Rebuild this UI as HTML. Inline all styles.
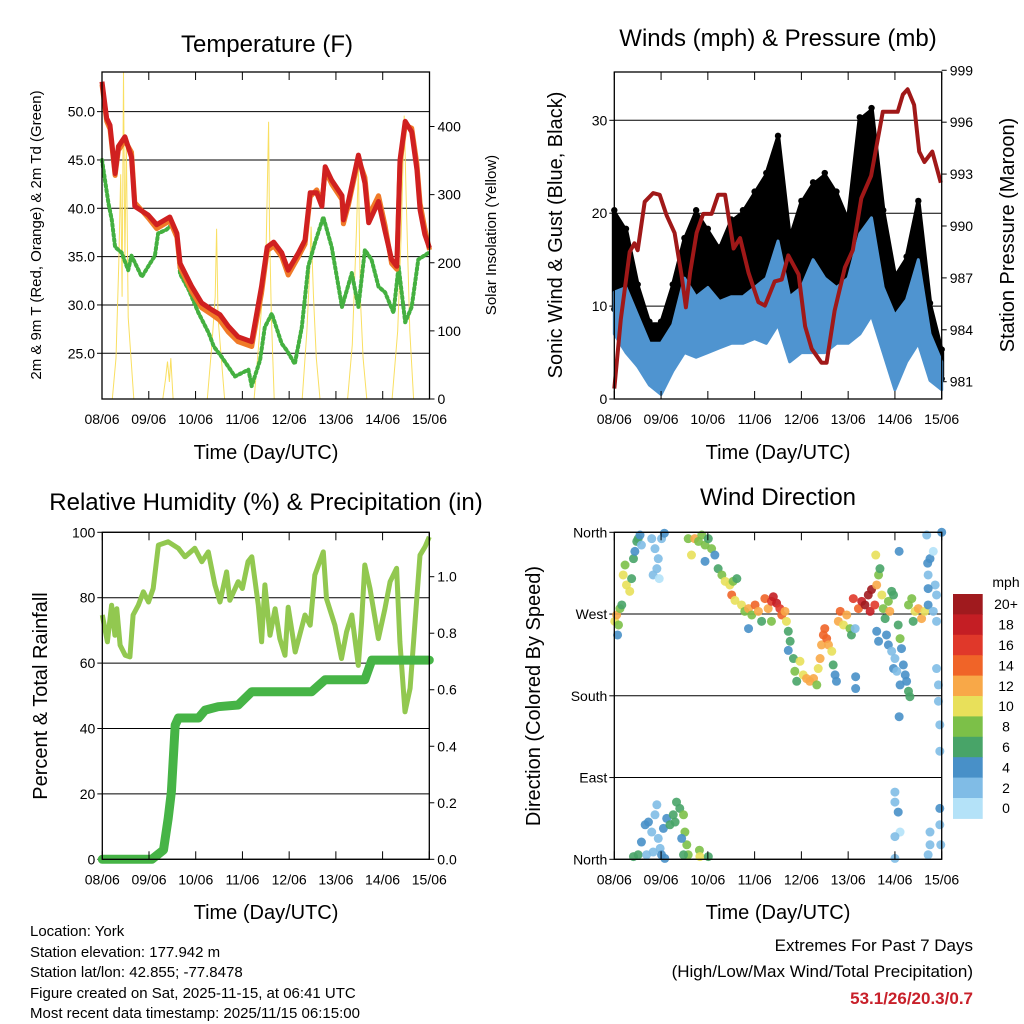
<!DOCTYPE html>
<html><head><meta charset="utf-8"><style>
html,body{margin:0;padding:0;background:#fff;}
svg{display:block;font-family:"Liberation Sans",Arial,sans-serif;}
</style></head><body>
<svg id="chart" width="1024" height="1024" viewBox="0 0 1024 1024" xmlns="http://www.w3.org/2000/svg">
<rect x="0" y="0" width="1024" height="1024" fill="#fff"/>
<g id="layerP1"></g>
<g id="layerP2"></g>
<g id="layerP3"></g>
<g id="layerP4"></g>

<text x="267" y="52" font-size="24" text-anchor="middle">Temperature (F)</text>
<text x="778" y="46" font-size="24" text-anchor="middle">Winds (mph) &amp; Pressure (mb)</text>
<text x="266" y="510" font-size="24" text-anchor="middle">Relative Humidity (%) &amp; Precipitation (in)</text>
<text x="778" y="505" font-size="24" text-anchor="middle">Wind Direction</text>

<text x="266" y="459" font-size="20" text-anchor="middle">Time (Day/UTC)</text>
<text x="778" y="459" font-size="20" text-anchor="middle">Time (Day/UTC)</text>
<text x="266" y="919" font-size="20" text-anchor="middle">Time (Day/UTC)</text>
<text x="778" y="919" font-size="20" text-anchor="middle">Time (Day/UTC)</text>

<text transform="translate(41,235) rotate(-90)" font-size="15" text-anchor="middle">2m &amp; 9m T (Red, Orange) &amp; 2m Td (Green)</text>
<text transform="translate(496,235) rotate(-90)" font-size="15" text-anchor="middle">Solar Insolation (Yellow)</text>
<text transform="translate(562,235) rotate(-90)" font-size="20" text-anchor="middle">Sonic Wind &amp; Gust (Blue, Black)</text>
<text transform="translate(1014,235) rotate(-90)" font-size="20" text-anchor="middle">Station Pressure (Maroon)</text>
<text transform="translate(47,696) rotate(-90)" font-size="20" text-anchor="middle">Percent &amp; Total Rainfall</text>
<text transform="translate(540,696) rotate(-90)" font-size="20" text-anchor="middle">Direction (Colored By Speed)</text>

<g font-size="15">
<text x="30" y="936">Location: York</text>
<text x="30" y="957">Station elevation: 177.942 m</text>
<text x="30" y="977">Station lat/lon: 42.855; -77.8478</text>
<text x="30" y="998">Figure created on Sat, 2025-11-15, at 06:41 UTC</text>
<text x="30" y="1018">Most recent data timestamp: 2025/11/15 06:15:00</text>
</g>
<text x="973" y="951" font-size="17" text-anchor="end">Extremes For Past 7 Days</text>
<text x="973" y="977" font-size="17" text-anchor="end">(High/Low/Max Wind/Total Precipitation)</text>
<text x="973" y="1004" font-size="17" font-weight="bold" fill="#c8202a" text-anchor="end">53.1/26/20.3/0.7</text>
</svg>
<script>
// ---------- data ----------
const dayLabels=["08/06","09/06","10/06","11/06","12/06","13/06","14/06","15/06"];
const tempTicks=[25,30,35,40,45,50];
const solarTicks=[0,100,200,300,400];
const windTicks=[0,10,20,30];
const presTicks=[981,984,987,990,993,996,999];
const rhTicks=[0,20,40,60,80,100];
const rainTicks=[0,0.2,0.4,0.6,0.8,1.0];
const dirTicks=[360,270,180,90,0];
const dirLabels=["North","West","South","East","North"];

const redT=[0,0.10,0.17,0.28,0.35,0.49,0.63,0.70,0.99,1.17,1.45,1.60,1.67,1.92,2.13,2.35,2.52,2.70,2.91,3.20,3.41,3.53,3.67,3.84,3.98,4.20,4.34,4.45,4.59,4.70,4.77,4.91,5.13,5.16,5.27,5.48,5.62,5.70,5.91,6.05,6.19,6.30,6.37,6.48,6.62,6.73,6.80,6.90,7.0];
const redV=[53.1,49.3,48.6,43.6,46.4,47.4,45.3,40.2,39.3,38.3,39.1,37.4,34.3,31.9,30.2,29.5,29.0,27.8,26.7,26.2,31.9,36.0,36.5,35.4,33.6,35.4,36.7,41.6,41.6,40.2,44.3,42.9,41.3,38.8,40.8,45.5,42.6,38.5,40.7,37.6,34.7,34.0,45.0,49.0,47.9,44.0,39.8,37.3,35.9];
const orangeV=[52.8,49.0,48.2,43.4,46.0,47.0,45.8,40.6,39.0,37.9,38.7,37.0,33.9,31.4,29.7,29.0,28.4,27.2,26.2,25.7,31.2,35.6,36.1,35.0,33.1,35.0,36.3,41.2,41.9,40.6,43.9,42.5,40.9,38.4,40.4,45.1,43.2,39.2,41.3,38.2,34.3,33.7,44.6,48.6,48.3,44.6,40.5,37.9,35.7];
const tdT=[0,0.14,0.21,0.28,0.42,0.56,0.63,0.85,0.99,1.13,1.20,1.38,1.49,1.60,1.67,1.85,2.06,2.28,2.39,2.56,2.84,3.13,3.20,3.38,3.48,3.63,3.84,3.95,4.12,4.27,4.41,4.55,4.73,4.91,5.13,5.34,5.48,5.62,5.76,5.91,6.05,6.23,6.34,6.48,6.62,6.76,6.98];
const tdV=[45.0,40.5,38.8,36.0,35.4,33.6,35.1,32.9,34.0,35.1,37.4,37.8,38.3,37.1,33.2,31.6,29.2,27.1,25.7,24.6,22.6,23.3,21.6,24.3,27.7,29.1,26.0,25.3,23.9,27.7,34.0,36.4,39.1,36.0,29.8,33.3,29.8,35.7,34.7,31.9,31.3,29.2,34.0,28.2,29.8,34.7,35.4];
const solarT=[0,0.22,0.30,0.36,0.40,0.43,0.46,0.49,0.52,0.56,0.62,0.68,1.30,1.36,1.40,1.44,1.47,1.52,2.25,2.35,2.42,2.45,2.48,2.55,2.62,3.25,3.35,3.44,3.50,3.53,3.56,3.58,3.62,3.68,4.28,4.38,4.44,4.47,4.52,4.58,4.66,5.25,5.35,5.44,5.48,5.52,5.58,5.66,6.20,6.32,6.40,6.46,6.50,6.58,6.66,7.0];
const solarV=[0,0,60,200,330,150,480,200,380,120,60,0,0,30,55,25,60,0,0,80,150,250,120,60,0,0,80,160,200,300,407,250,120,0,0,100,190,253,150,60,0,0,80,250,341,150,60,0,0,100,250,416,300,100,0,0];

const windT=[0,0.25,0.5,0.75,1,1.25,1.5,1.75,2,2.25,2.5,2.75,3,3.25,3.5,3.75,4,4.25,4.5,4.75,5,5.25,5.5,5.75,6,6.25,6.5,6.75,7];
const sustHi=[11.5,12,9,6,6,8,13,11,12,10.5,11,11,12,13,17,11,12,15,13,12,13,17.8,19.5,12,9,10.7,15,7,4];
const sustLo=[7,5,3.5,1.5,0.5,3,5,4.5,5,5.5,6,6,6.5,6,8,4,5,5,5,6,6,7,9,5,1,4,6,2,1];
const gustHi=[20,18,12,8,8,12,17,20,18,16,19,20,22,24,28,17,21,23,24,22,19,30,31,20,13,15,21,10,5];
const gustLo=[10,11,8,4,3,7,10,11,10,10,10,11,12,13,16,10,11,12,12,12,11,17,18,10,5,6,11,4,2.5];
const presT=[0,0.14,0.33,0.43,0.5,0.65,0.83,0.97,1.12,1.29,1.44,1.53,1.62,1.76,1.9,2.08,2.22,2.37,2.55,2.69,2.87,3.08,3.22,3.43,3.58,3.72,3.94,4.08,4.22,4.43,4.54,4.71,4.93,5.1,5.28,5.49,5.74,5.92,6.06,6.17,6.27,6.41,6.52,6.63,6.8,6.98];
const presV=[980.6,984.6,988.5,989.0,988.6,991.4,991.9,991.8,990.6,989.6,987.1,985.3,987.3,989.6,990.7,990.7,991.8,991.8,988.7,989.3,987.3,985.6,985.4,986.8,986.9,988.3,987.2,984.2,982.9,982.1,982.1,985.1,987.6,988.6,991.6,992.9,996.6,996.6,996.6,997.6,997.9,997.0,994.3,993.7,994.3,992.5];

const rhT=[0,0.11,0.2,0.27,0.31,0.38,0.49,0.59,0.66,0.77,0.88,0.99,1.09,1.2,1.41,1.63,1.77,1.98,2.13,2.27,2.41,2.52,2.66,2.73,2.91,3.0,3.12,3.2,3.34,3.41,3.48,3.59,3.7,3.8,3.91,3.98,4.13,4.34,4.45,4.55,4.73,4.8,4.98,5.12,5.23,5.34,5.48,5.55,5.62,5.73,5.91,6.05,6.16,6.3,6.37,6.48,6.59,6.69,6.8,6.91,7.0];
const rhV=[74.7,66.5,77.7,68.5,76.6,65.5,62.4,61.9,74.7,77.7,81.8,78.7,82.8,96.1,97.1,95.1,92.5,95.1,91.0,94.0,83.9,78.7,87.9,79.2,84.9,82.8,91.0,92.5,77.7,66.5,83.9,68.5,76.6,67.5,62.4,77.1,63.4,74.7,71.6,86.9,94.0,79.7,71.6,61.4,69.6,74.7,59.3,72.6,90.0,82.8,67.5,76.6,84.9,89.0,66.5,45.1,52.3,71.6,93.0,95.6,98.6];
const rainT=[0,1.06,1.31,1.41,1.48,1.56,1.63,2.06,2.2,2.48,2.91,3.2,4.48,4.77,5.62,5.77,7.0];
const rainV=[0,0,0.033,0.145,0.24,0.475,0.50,0.50,0.528,0.54,0.546,0.593,0.593,0.635,0.635,0.705,0.705];

const dirT=[0.01,0.05,0.09,0.12,0.07,0.16, 0.19,0.23,0.26,0.33,0.37,0.41,0.44,0.48,0.51,0.55,0.58, 0.80,0.87,0.94,0.91,0.83,1.01,1.07,0.96, 1.58,1.65,1.72,1.80,1.87,1.94,2.01,2.08,1.94,2.15, 2.22,2.30,2.37,2.47,2.54,2.62,2.51,2.58, 2.72,2.79,2.87,2.94,3.01,3.08,3.15,3.22,3.29,3.36,3.40,3.47,3.54,3.58,3.65,3.68,2.87,3.36, 3.72,3.76,3.72,3.83,3.86,3.90,3.97,4.04,4.11,4.18,4.26,4.33,4.36,4.40,4.43,4.47,4.50,4.54,4.58,4.65,4.68,4.72,4.75,4.79,4.83,4.90,4.97,5.04,5.07,5.15,5.16,5.16, 5.11,5.22,5.29,5.36,5.43,5.50,5.47,5.57,5.61,5.65,5.59,5.68,5.72,5.75,5.79,5.86,5.93,5.89,5.97, 5.61,5.65,5.82,5.86,5.93,6.00,5.97,6.07,6.11,6.14,6.18,6.22,6.25,6.29,6.32,6.11,6.04,6.09,6.09, 6.29,6.36,6.43,6.50,6.57,6.64,6.39,6.71, 6.68,6.75,6.82,6.71,6.86,6.89,6.82,6.89,7.00,6.89,6.93,6.93,6.96,6.96,6.71,6.70, 0.41,0.51,0.58,0.66,0.73,0.80,0.87,0.91,0.94,0.98,1.01,1.05,1.12,1.19,1.26,1.30,1.33,1.40,1.48,1.51,1.55,1.44,1.58,1.82,1.83,2.01,0.69,0.83,1.08,1.48, 6.00,6.00,6.07,6.11,6.00,6.75,6.75,6.71,6.96,6.96,6.98,6.00];
const dirDeg=[262,269,258,276,247,280, 313,324,302,295,309,331,339,350,353,357,346, 353,342,331,320,313,353,359,309, 353,335,353,350,357,346,353,342,328,335, 320,313,306,302,306,309,291,285, 280,273,276,269,280,273,262,287,276,284,289,282,276,269,273,262,254,262, 251,240,230,221,207,196,218,203,199,196,199,192,210,221,236,247,254,243,236,229,214,203,196,262,273,258,269,254,247,254,201,188, 287,276,284,280,291,297,273,280,302,313,335,320,291,276,265,284,295,273,291, 251,240,247,236,229,221,210,258,243,232,214,203,196,185,179,192,207,339,157, 280,287,273,276,265,273,262,280, 357,331,339,313,302,291,273,262,360,210,192,174,148,119,298,326, 3,5,19,38,41,30,49,60,23,12,5,34,45,38,49,41,63,56,49,30,16,23,5,10,3,3,5,8,1,5, 74,63,52,30,25,30,16,5,56,38,16,1];
const dirSpd=[10,12,8,8,4,6, 10,8,10,10,6,6,4,6,6,4,2, 2,2,2,2,2,2,4,0, 8,10,12,8,8,8,6,8,4,4, 6,8,10,10,8,6,14,10, 10,8,12,8,14,12,6,14,12,16,18,18,16,14,12,10,4,8, 6,6,4,6,8,6,10,10,12,12,12,8,10,12,12,14,14,14,12,10,6,4,4,12,14,10,12,8,6,2,4,4, 16,14,18,20,20,20,18,16,12,8,10,6,10,8,6,8,6,12,6, 4,4,4,4,2,2,4,6,8,4,4,4,4,6,6,4,2,4,4, 8,8,10,12,12,10,6,4, 2,4,0,2,2,2,2,2,4,2,2,2,2,2,4,4, 6,6,4,4,4,2,2,2,2,2,4,4,4,6,6,6,6,6,8,8,8,4,8,8,10,6,2,2,4,6, 2,2,4,0,2,2,2,2,4,2,2,2];
const speedLevels=[0,2,4,6,8,10,12,14,16,18,20];
const speedLabels=["0","2","4","6","8","10","12","14","16","18","20+"];
const speedColors=["#b4e2f8","#80bce6","#4890c8","#48a468","#7cc048","#e8e05a","#f8a848","#f06428","#e0382a","#c41e24","#a01a1e"];

// ---------- helpers ----------
const NS="http://www.w3.org/2000/svg";
function mk(parent,tag,attrs){const e=document.createElementNS(NS,tag);for(const k in attrs)e.setAttribute(k,attrs[k]);parent.appendChild(e);return e;}
function lin(d0,d1,r0,r1){return v=>r0+(v-d0)*(r1-r0)/(d1-d0);}
function pts(xs,ys,fx,fy){return xs.map((t,i)=>fx(t).toFixed(1)+","+fy(ys[i]).toFixed(1)).join(" ");}

function frame(g,L,R,T,B,fx){
  for(let i=0;i<dayLabels.length;i++){
    const x=fx(i);
    const tb=mk(g,"line",{x1:x,x2:x,y1:B,y2:B-8,stroke:"#000","stroke-width":1});
    
    
    const tt=mk(g,"line",{x1:x,x2:x,y1:T,y2:T+8,stroke:"#000","stroke-width":1});
    
    
    const lb=mk(g,"text",{x:x,y:B+25,"font-size":14,"text-anchor":"middle"});
    lb.textContent=dayLabels[i];
    
    
  }
  const r=mk(g,"rect",{x:L,y:T,width:R-L,height:B-T,fill:"none",stroke:"#000","stroke-width":1.3});
  
  
}
function yAxis(g,L,R,ticks,fy,labels,side,grid,fmt){
  ticks.forEach((v,i)=>{
    const y=fy(v);
    if(grid){
      const gl=mk(g,"line",{x1:L,x2:R,y1:y,y2:y,stroke:"#000","stroke-width":1});
      
      
    }
    const x=side==="left"?L:R;
    const tk=mk(g,"line",{x1:x,x2:side==="left"?x-5:x+5,y1:y,y2:y,stroke:"#000","stroke-width":1});
    
    
    const t=mk(g,"text",{x:side==="left"?L-7:R+8,y:y+5,"font-size":14,"text-anchor":side==="left"?"end":"start"});
    t.textContent=labels?labels[i]:fmt(v);
    
    
  });
}

// ---------- Panel 1 ----------
(function(){
  const g=document.getElementById("layerP1");
  const L=102,R=429.5,T=72,B=399;
  const fx=lin(0,7,L,R), fy=lin(20.27,54.1,B,T), fs=lin(0,480,B,T);
  yAxis(g,L,R,tempTicks,fy,null,"left",true,v=>v.toFixed(1));
  yAxis(g,L,R,solarTicks,fs,null,"right",false,v=>String(v));
  const sol=mk(g,"polyline",{points:pts(solarT,solarV,fx,fs),fill:"none",stroke:"#f8dc50","stroke-width":1,"stroke-opacity":0.9});
  
  
  const td=mk(g,"polyline",{points:pts(tdT,tdV,fx,fy),fill:"none",stroke:"#44b040","stroke-width":4,"stroke-dasharray":"2 3","stroke-linecap":"round","stroke-linejoin":"round"});
  
  
  const or=mk(g,"polyline",{points:pts(redT,orangeV,fx,fy),fill:"none",stroke:"#f07a28","stroke-width":5,"stroke-linejoin":"round"});
  
  
  const rd=mk(g,"polyline",{points:pts(redT,redV,fx,fy),fill:"none",stroke:"#d02020","stroke-width":5,"stroke-linejoin":"round"});
  
  
  frame(g,L,R,T,B,fx);
})();

// ---------- Panel 2 ----------
(function(){
  const g=document.getElementById("layerP2");
  const L=614.3,R=941.7,T=72,B=399;
  const fx=lin(0,7,L,R), fy=lin(0,35.2,B,T), fp=lin(981,998.9,381.7,72);
  yAxis(g,L,R,windTicks,fy,null,"left",true,v=>String(v));
  yAxis(g,L,R,presTicks,fp,null,"right",false,v=>String(v));
  const gp=windT.map((t,i)=>fx(t).toFixed(1)+","+fy(gustHi[i]).toFixed(1)).concat(windT.slice().reverse().map((t,j)=>{const i=windT.length-1-j;return fx(t).toFixed(1)+","+fy(gustLo[i]).toFixed(1);})).join(" ");
  const gb=mk(g,"polygon",{points:gp,fill:"#000",stroke:"#000","stroke-width":5,"stroke-linejoin":"round"});
  
  
  windT.forEach((t,i)=>{
    const c=mk(g,"circle",{cx:fx(t),cy:fy(gustHi[i])-3,r:3.2,fill:"#000"});
    
    
    const c2=mk(g,"circle",{cx:fx(t),cy:fy(gustLo[i])+3,r:3.2,fill:"#000"});
    
    
  });
  const bp=windT.map((t,i)=>fx(t).toFixed(1)+","+fy(sustHi[i]).toFixed(1)).concat(windT.slice().reverse().map((t,j)=>{const i=windT.length-1-j;return fx(t).toFixed(1)+","+fy(sustLo[i]).toFixed(1);})).join(" ");
  const bb=mk(g,"polygon",{points:bp,fill:"#4f94d0",stroke:"#4f94d0","stroke-width":3,"stroke-linejoin":"round"});
  
  
  const pl=mk(g,"polyline",{points:pts(presT,presV,fx,fp),fill:"none",stroke:"#a01818","stroke-width":4,"stroke-linejoin":"round"});
  
  
  frame(g,L,R,T,B,fx);
})();

// ---------- Panel 3 ----------
(function(){
  const g=document.getElementById("layerP3");
  const L=102.3,R=429.3,T=532.3,B=859.3;
  const fx=lin(0,7,L,R), fy=lin(0,100,B,T), fr=lin(0,1,B,576.7);
  yAxis(g,L,R,rhTicks,fy,null,"left",true,v=>String(v));
  yAxis(g,L,R,rainTicks,fr,null,"right",false,v=>v.toFixed(1));
  const rh=mk(g,"polyline",{points:pts(rhT,rhV,fx,fy),fill:"none",stroke:"#92c850","stroke-width":5,"stroke-linejoin":"round"});
  
  
  const rn=mk(g,"polyline",{points:pts(rainT,rainV,fx,fr),fill:"none",stroke:"#46b446","stroke-width":9,"stroke-linejoin":"round","stroke-linecap":"round"});
  
  
  frame(g,L,R,T,B,fx);
})();

// ---------- Panel 4 ----------
(function(){
  const g=document.getElementById("layerP4");
  const L=614.3,R=941.7,T=532.3,B=859.3;
  const fx=lin(0,7,L,R), fy=lin(0,360,B,T);
  yAxis(g,L,R,dirTicks,fy,dirLabels,"left",true,null);
  function colorFor(s){let k=0;for(let i=0;i<speedLevels.length;i++){if(s>=speedLevels[i])k=i;}return speedColors[k];}
  dirT.forEach((t,i)=>{
    const c=mk(g,"circle",{cx:fx(t),cy:fy(dirDeg[i]),r:4.5,fill:colorFor(dirSpd[i]),"fill-opacity":0.9});
    
    
  });
  frame(g,L,R,T,B,fx);
  const cbTop=594,cbH=20.4,cbX=953,cbW=29.7;
  const lab=mk(g,"text",{x:1006,y:587,"font-size":14,"text-anchor":"middle"});
  lab.textContent="mph";
  
  
  for(let j=0;j<speedColors.length;j++){
    const k=speedColors.length-1-j;
    const r=mk(g,"rect",{x:cbX,y:cbTop+j*cbH,width:cbW,height:cbH+0.5,fill:speedColors[k]});
    
    
    const t=mk(g,"text",{x:1006,y:cbTop+j*cbH+cbH/2+5,"font-size":14,"text-anchor":"middle"});
    t.textContent=speedLabels[k];
    
    
  }
})();
</script>
</body></html>
